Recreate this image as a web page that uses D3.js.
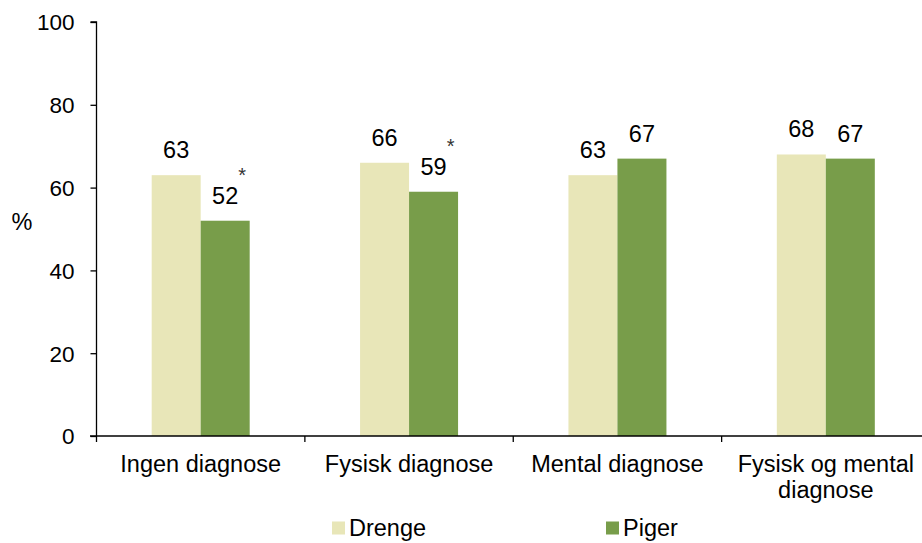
<!DOCTYPE html>
<html><head><meta charset="utf-8">
<script src="https://cdn.jsdelivr.net/npm/d3@7"></script>
<style>body{margin:0;background:#fff}svg{display:block;font-family:"Liberation Sans",Arial,sans-serif}</style>
</head><body><svg id="c" width="922" height="543"></svg>
<script>
const categories = ["Ingen diagnose", "Fysisk diagnose", "Mental diagnose", "Fysisk og mental diagnose"];
const seriesNames = ["Drenge", "Piger"];
const drenge = [63, 66, 63, 68];
const piger = [52, 59, 67, 67];
const pigerStar = [true, true, false, false];
const yTicks = [0, 20, 40, 60, 80, 100];
const colors = ["#E8E6B8", "#789D4A"];

const svg = d3.select("#c");
const x = d3.scaleBand().domain(categories).range([96.5, 930]).padding(0);
const y = d3.scaleLinear().domain([0, 100]).range([436, 22]);
const barW = 49;
const fs = 23.5;

// bars
const series = [drenge, piger];
series.forEach((vals, si) => {
  svg.append("g").selectAll("rect").data(categories).join("rect")
    .attr("x", (d) => x(d) + x.bandwidth() / 2 - barW + si * barW)
    .attr("width", barW)
    .attr("y", (d, i) => y(vals[i]))
    .attr("height", (d, i) => y(0) - y(vals[i]))
    .attr("fill", colors[si]);
  svg.append("g").selectAll("text").data(categories).join("text")
    .attr("x", (d) => x(d) + x.bandwidth() / 2 - barW / 2 + si * barW)
    .attr("y", (d, i) => y(vals[i]) - 17)
    .attr("text-anchor", "middle")
    .attr("font-size", fs).attr("fill", "#000")
    .text((d, i) => vals[i]);
});
// asterisks
svg.append("g").selectAll("text").data(categories.filter((d, i) => pigerStar[i])).join("text")
  .attr("x", (d) => x(d) + x.bandwidth() / 2 + barW / 2 + 17)
  .attr("y", (d) => y(piger[categories.indexOf(d)]) - 17 - 22)
  .attr("text-anchor", "middle").attr("font-size", 20).attr("fill", "#333")
  .text("*");

// y axis
const yAxis = svg.append("g").attr("transform", "translate(96.5,0)")
  .call(d3.axisLeft(y).tickValues(yTicks).tickSize(6).tickPadding(16).tickFormat(d3.format("d")));
yAxis.select(".domain").attr("stroke", "#000").attr("stroke-width", 1.3).attr("d", "M-6," + y(100) + "H0V" + y(0));
yAxis.selectAll(".tick line").attr("stroke", "#000").attr("stroke-width", 1.3);
yAxis.selectAll(".tick text").attr("font-size", 22.5).attr("fill", "#000").attr("font-family", "Liberation Sans, Arial, sans-serif").attr("dy", "0.35em");

// x axis
const xg = svg.append("g").attr("transform", "translate(0," + y(0) + ")");
xg.append("line").attr("x1", 90).attr("x2", 930).attr("y1", 0).attr("y2", 0).attr("stroke", "#000").attr("stroke-width", 1.3);
const bounds = categories.map((d) => x(d)).concat([x(categories[categories.length - 1]) + x.bandwidth()]);
xg.selectAll("line.t").data(bounds).join("line").attr("class", "t")
  .attr("x1", (d) => d).attr("x2", (d) => d).attr("y1", 0).attr("y2", 6)
  .attr("stroke", "#000").attr("stroke-width", 1.3);
// category labels with wrapping
categories.forEach((c) => {
  const t = svg.append("text").attr("text-anchor", "middle").attr("font-size", fs).attr("fill", "#000");
  const cx = x(c) + x.bandwidth() / 2;
  const words = c.split(" ");
  let lines = [], cur = "";
  words.forEach((w) => {
    const test = cur ? cur + " " + w : w;
    if (test.length > 16 && cur) { lines.push(cur); cur = w; } else cur = test;
  });
  lines.push(cur);
  lines.forEach((l, i) => t.append("tspan").attr("x", cx).attr("y", 472 + i * 26).text(l));
});

// y label
svg.append("text").attr("x", 22).attr("y", 230).attr("text-anchor", "middle").attr("font-size", fs).attr("fill", "#000").text("%");

// legend
const legX = [332, 606];
seriesNames.forEach((n, i) => {
  svg.append("rect").attr("x", legX[i]).attr("y", 521.5).attr("width", 13).attr("height", 13).attr("fill", colors[i]);
  svg.append("text").attr("x", legX[i] + 17).attr("y", 536).attr("font-size", fs).attr("fill", "#000").text(n);
});
</script></body></html>
